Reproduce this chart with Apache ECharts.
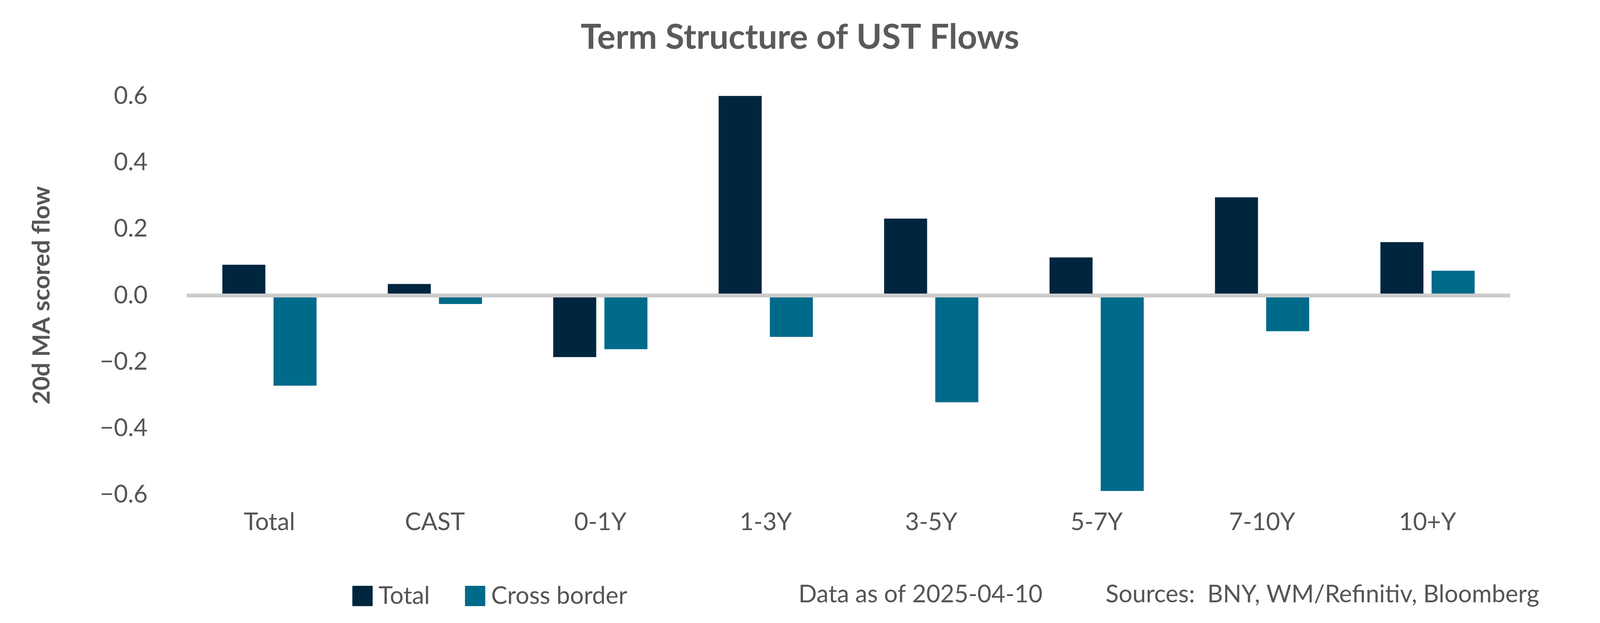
<!DOCTYPE html>
<html>
<head>
<meta charset="utf-8">
<script src="https://cdn.jsdelivr.net/npm/echarts@6/dist/echarts.min.js"></script>
<style>html,body{margin:0;padding:0;background:#fff;overflow:hidden}#chart{width:100vw;height:100vh}</style>
</head>
<body>
<div id="chart"></div>
<script>
const categories = ['Total', 'CAST', '0-1Y', '1-3Y', '3-5Y', '5-7Y', '7-10Y', '10+Y'];
const totalFlow = [0.092, 0.034, -0.186, 0.605, 0.231, 0.114, 0.295, 0.16];
const crossBorder = [-0.272, -0.026, -0.162, -0.125, -0.322, -0.589, -0.108, 0.074];
const yTicks = [-0.6, -0.4, -0.2, 0.0, 0.2, 0.4, 0.6];

const FONT = 'Lato';
const chart = echarts.init(document.getElementById('chart'));

chart.setOption({
    backgroundColor: '#fff',
    textStyle: { fontFamily: FONT },
    title: {
        text: 'Term Structure of UST Flows', left: 'center', top: '3%',
        textStyle: { fontFamily: FONT, fontSize: 88, fontWeight: 'bold', color: '#5a5a5a' }
    },
    legend: {
        left: '21.9%', top: '93.4%', itemWidth: 52, itemHeight: 52, itemGap: 90,
        icon: 'rect', data: ['Total', 'Cross border'],
        textStyle: { fontFamily: FONT, fontSize: 62, color: '#555', padding: [0, 0, 0, 10] }
    },
    graphic: [
        { type: 'text', left: '49.9%', top: '93.5%', style: { text: 'Data as of 2025-04-10', font: '62px ' + FONT, fill: '#555' } },
        { type: 'text', left: '69.1%', top: '93.5%', style: { text: 'Sources:  BNY, WM/Refinitiv, Bloomberg', font: '62px ' + FONT, fill: '#555' } }
    ],
    grid: { left: '11.67%', right: '5.61%', top: '15.4%', bottom: '20.6%' },
    xAxis: {
        type: 'category', data: categories, position: 'bottom',
        axisLine: { show: false }, axisTick: { show: false },
        axisLabel: { fontSize: 62, color: '#555', margin: 40 }
    },
    yAxis: {
        type: 'value', min: yTicks[0], max: yTicks[yTicks.length - 1], interval: 0.2,
        name: '20d MA scored flow', nameLocation: 'middle', nameGap: 340, nameRotate: 90,
        nameTextStyle: { fontSize: 62, fontWeight: 'bold', color: '#555' },
        splitLine: { show: false }, axisLine: { show: false }, axisTick: { show: false },
        axisLabel: {
            fontSize: 62, color: '#555', margin: 100,
            formatter: v => (v < 0 ? '\u2212' : '') + Math.abs(v).toFixed(1)
        }
    },
    series: [
        {
            name: 'Total', type: 'bar', data: totalFlow, barWidth: '26%', barGap: '19%',
            itemStyle: { color: '#00253f' },
            markLine: {
                silent: true, symbol: 'none', label: { show: false },
                lineStyle: { color: '#cccccc', width: 10, type: 'solid' },
                data: [{ yAxis: 0 }]
            }
        },
        {
            name: 'Cross border', type: 'bar', data: crossBorder, barWidth: '26%',
            itemStyle: { color: '#006a8a' }
        }
    ]
});
window.onresize = () => chart.resize();
</script>
</body>
</html>
